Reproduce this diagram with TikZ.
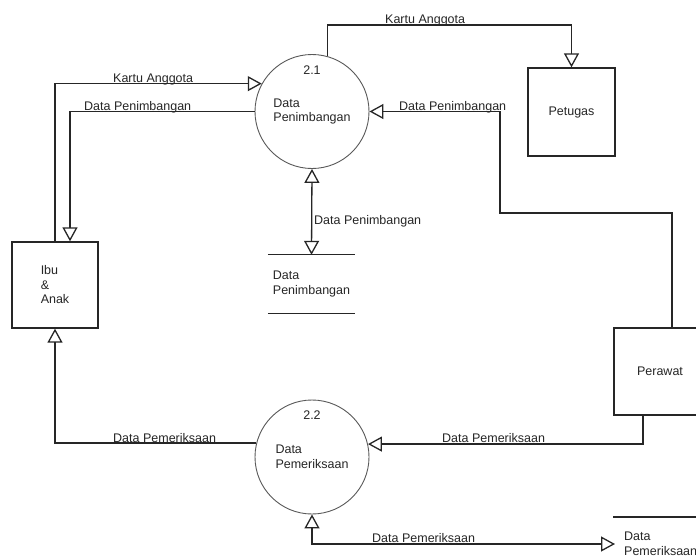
\documentclass[tikz,border=0pt]{standalone}
\usepackage{fontspec}
\setmainfont{Liberation Sans}
\usetikzlibrary{arrows.meta,calc}
\begin{document}
\begin{tikzpicture}[x=1pt,y=-1pt,
  every node/.style={font=\fontsize{12.5}{14.5}\selectfont, text=black!85},
  ent/.style={draw=black!85, line width=1.4pt, inner sep=0pt, align=left},
  proc/.style={circle, draw=black!65, line width=0.9pt, minimum size=114pt, inner sep=0pt, align=left},
  flow/.style={draw=black!85, line width=1.3pt, -{Triangle[open,length=14pt,width=15pt]}},
  flowtwo/.style={draw=black!85, line width=1.3pt, {Triangle[open,length=14pt,width=15pt]}-{Triangle[open,length=14pt,width=15pt]}},
  storeline/.style={draw=black!85, line width=1.3pt},
  lbl/.style={anchor=base west, inner sep=0pt}]
\fill[white] (0,0) rectangle (696,557);
\useasboundingbox (0,0) rectangle (696,557);

% entities
\node[ent, minimum width=86pt, minimum height=86pt] (ibu) at (55,285) {Ibu\\\&\\Anak};
\node[ent, minimum width=87pt, minimum height=88pt] (petugas) at (571.5,112) {Petugas};
\node[ent, minimum width=116pt, minimum height=87pt] (perawat) at (672,371.5) {};
\node[inner sep=0pt] (perawattext) at ($(perawat.center)+(-12,0)$) {Perawat};

% processes
\node[proc] (p1) at (312,111.5) {Data\\Penimbangan};
\node[inner sep=0pt] (n1) at (312,70) {2.1};
\node[proc] (p2) at (312,457) {Data\\Pemeriksaan};
\node[inner sep=0pt] (n2) at (312,415) {2.2};

% data stores
\node[minimum width=87pt, minimum height=58pt, inner sep=0pt, align=left] (s1) at (311.5,284) {Data\\Penimbangan};
\draw[storeline] (s1.north west) -- (s1.north east) (s1.south west) -- (s1.south east);
\node[inner xsep=9pt, inner ysep=0pt, anchor=west, align=left] (s2) at (615,544) {Data\\Pemeriksaan};
\draw[storeline] ($(s2.west)+(-2,-27)$) -- ++(90,0);

% flows
\coordinate (k1) at (571.5,25);
\draw[flow] (p1.74.7) |- (k1) -- (petugas.north);
\draw[flow] (ibu.north) |- (p1.151.2);
\draw[flow] (p1.west) -| ($(ibu.north)+(15,0)$);
\coordinate (c1) at (500,213);
\draw[flow] (perawat.north) |- (c1) |- (p1.east);
\draw[flowtwo] (p1.south) -- (s1.north);
\draw[flow] (p2.166.8) -| (ibu.south);
\draw[flow] ($(perawat.south)+(-29,0)$) |- (p2.13.2);
\draw[flowtwo] (p2.south) |- (s2.west);

% labels
\node[lbl] (l1) at (385,23) {Kartu Anggota};
\node[lbl] (l2) at (113,82) {Kartu Anggota};
\node[lbl] (l3) at (84,110) {Data Penimbangan};
\node[lbl] (l4) at (399,110) {Data Penimbangan};
\node[lbl] (l5) at (314,224) {Data Penimbangan};
\node[lbl] (l6) at (113,442) {Data Pemeriksaan};
\node[lbl] (l7) at (442,442) {Data Pemeriksaan};
\node[lbl] (l8) at (372,542) {Data Pemeriksaan};
\end{tikzpicture}
\end{document}
